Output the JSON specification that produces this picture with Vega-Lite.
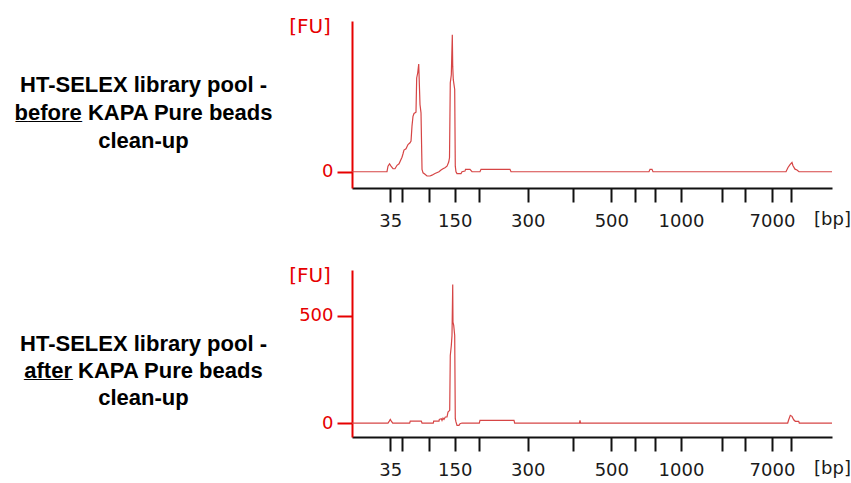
{
  "$schema": "https://vega.github.io/schema/vega-lite/v6.json",
  "background": "white",
  "padding": {"left": 13, "top": 17, "right": 0, "bottom": 0},
  "spacing": 36,
  "config": {
    "view": {"stroke": null},
    "font": "DejaVu Sans",
    "axisX": {
      "labelOverlap": false,
      "labelFlush": false,
      "grid": false,
      "domainColor": "#111111",
      "domainWidth": 2,
      "tickColor": "#111111",
      "tickWidth": 2,
      "tickSize": 14,
      "labelFont": "DejaVu Sans",
      "labelFontSize": 18,
      "labelColor": "#1a1a1a",
      "labelPadding": 10,
      "titleFont": "DejaVu Sans",
      "titleFontSize": 18,
      "titleFontWeight": "normal",
      "titleColor": "#1a1a1a"
    },
    "axisY": {
      "grid": false,
      "domainColor": "#e60000",
      "domainWidth": 2,
      "tickColor": "#e60000",
      "tickWidth": 2,
      "tickSize": 15,
      "labelFont": "DejaVu Sans",
      "labelFontSize": 18,
      "labelColor": "#e60000",
      "labelPadding": 4,
      "titleFont": "Liberation Sans",
      "titleFontSize": 22,
      "titleFontWeight": "bold",
      "titleColor": "#000000"
    },
    "title": {
      "font": "DejaVu Sans",
      "fontSize": 20,
      "fontWeight": "normal",
      "color": "#e60000"
    }
  },
  "datasets": {
    "before": [
      {"bp": 20, "fu": 0}, {"bp": 33.7, "fu": 0}, {"bp": 34.1, "fu": 26}, {"bp": 34.7, "fu": 37}, {"bp": 35.9, "fu": 26},
      {"bp": 38.5, "fu": 14}, {"bp": 41, "fu": 14}, {"bp": 43.6, "fu": 30}, {"bp": 46.2, "fu": 37}, {"bp": 50, "fu": 68},
      {"bp": 51.9, "fu": 84}, {"bp": 53.7, "fu": 101}, {"bp": 57.5, "fu": 107}, {"bp": 61.2, "fu": 127}, {"bp": 65, "fu": 135},
      {"bp": 66.9, "fu": 143}, {"bp": 68.7, "fu": 213}, {"bp": 70.6, "fu": 259}, {"bp": 72.5, "fu": 272}, {"bp": 76.2, "fu": 278},
      {"bp": 77.5, "fu": 438}, {"bp": 79.4, "fu": 461}, {"bp": 81.3, "fu": 503}, {"bp": 83.7, "fu": 314}, {"bp": 85.6, "fu": 275},
      {"bp": 87.5, "fu": 11}, {"bp": 89.4, "fu": -5}, {"bp": 93.1, "fu": -12}, {"bp": 96.8, "fu": -20}, {"bp": 102.5, "fu": -20},
      {"bp": 106.3, "fu": -16}, {"bp": 112.1, "fu": -8}, {"bp": 119.8, "fu": 0}, {"bp": 123.7, "fu": 8}, {"bp": 127.5, "fu": 14},
      {"bp": 131.3, "fu": 19}, {"bp": 135.2, "fu": 26}, {"bp": 138.5, "fu": 45}, {"bp": 140, "fu": 65}, {"bp": 141.5, "fu": 415},
      {"bp": 143.5, "fu": 453}, {"bp": 145.4, "fu": 640}, {"bp": 146.2, "fu": 492}, {"bp": 147.3, "fu": 430}, {"bp": 150, "fu": 384},
      {"bp": 151.2, "fu": 26}, {"bp": 152.6, "fu": 0}, {"bp": 154.7, "fu": -9}, {"bp": 162.8, "fu": -9}, {"bp": 164.8, "fu": 0},
      {"bp": 170.9, "fu": 3}, {"bp": 172, "fu": 11}, {"bp": 181.1, "fu": 11}, {"bp": 185.2, "fu": 0}, {"bp": 201.4, "fu": 0},
      {"bp": 203.5, "fu": 11}, {"bp": 263.4, "fu": 11}, {"bp": 265.5, "fu": 0}, {"bp": 670.6, "fu": 0}, {"bp": 675.8, "fu": 11},
      {"bp": 686.1, "fu": 11}, {"bp": 691.2, "fu": 0}, {"bp": 9451, "fu": 0}, {"bp": 9802, "fu": 20}, {"bp": 10152, "fu": 33},
      {"bp": 10459, "fu": 43}, {"bp": 10573, "fu": 28}, {"bp": 10800, "fu": 12}, {"bp": 11027, "fu": 8}, {"bp": 11254, "fu": 0},
      {"bp": 15000, "fu": 0}
    ],
    "after": [
      {"bp": 20, "fu": 0}, {"bp": 34.1, "fu": 0}, {"bp": 34.6, "fu": 9}, {"bp": 35, "fu": 17}, {"bp": 36.3, "fu": 9},
      {"bp": 38.1, "fu": 0}, {"bp": 64.4, "fu": 0}, {"bp": 65.5, "fu": 9}, {"bp": 86.1, "fu": 9}, {"bp": 87.5, "fu": 0},
      {"bp": 108.8, "fu": 0}, {"bp": 109.6, "fu": 9}, {"bp": 119.8, "fu": 9}, {"bp": 120.4, "fu": 17}, {"bp": 124.2, "fu": 20},
      {"bp": 125.6, "fu": 12}, {"bp": 127.5, "fu": 23}, {"bp": 129.4, "fu": 17}, {"bp": 132, "fu": 28}, {"bp": 135.2, "fu": 28},
      {"bp": 137.1, "fu": 51}, {"bp": 140.4, "fu": 59}, {"bp": 141.5, "fu": 314}, {"bp": 143.5, "fu": 361}, {"bp": 144.8, "fu": 407},
      {"bp": 146.2, "fu": 645}, {"bp": 146.7, "fu": 469}, {"bp": 148.1, "fu": 454}, {"bp": 150, "fu": 407}, {"bp": 151.2, "fu": 20},
      {"bp": 152.6, "fu": 5}, {"bp": 154.7, "fu": -11}, {"bp": 158.7, "fu": -11}, {"bp": 160.8, "fu": -3}, {"bp": 164.8, "fu": 0},
      {"bp": 200, "fu": 0}, {"bp": 201.4, "fu": 12}, {"bp": 271.7, "fu": 12}, {"bp": 273.1, "fu": 0}, {"bp": 417.6, "fu": 0},
      {"bp": 418.9, "fu": 12}, {"bp": 420.2, "fu": 0}, {"bp": 9749, "fu": 0}, {"bp": 9924, "fu": 15}, {"bp": 10204, "fu": 36},
      {"bp": 10459, "fu": 31}, {"bp": 10652, "fu": 15}, {"bp": 10834, "fu": 8}, {"bp": 11220, "fu": 8}, {"bp": 11288, "fu": 0},
      {"bp": 15000, "fu": 0}
    ]
  },
  "vconcat": [
    {
      "width": 480,
      "height": 167,
      "title": {"text": "[FU]", "orient": "top", "anchor": "start", "frame": "group", "align": "center", "baseline": "middle", "offset": 0, "dx": -42, "dy": 26},
      "data": {"name": "before"},
      "mark": {"type": "line", "color": "#d64545", "strokeWidth": 1.2, "interpolate": "linear"},
      "encoding": {
        "x": {
          "field": "bp", "type": "quantitative",
          "scale": {
            "type": "linear",
            "domain": [20, 35, 50, 100, 150, 200, 300, 400, 500, 600, 700, 1000, 2000, 3000, 7000, 10380, 15000],
            "range": [0, 38.3, 50, 76.7, 102.7, 127.3, 175.7, 220.7, 259.3, 283.3, 302.7, 329, 370, 393.3, 420, 439.3, 480],
            "nice": false, "zero": false
          },
          "axis": {
            "values": [35, 50, 100, 150, 200, 300, 400, 500, 600, 700, 1000, 2000, 3000, 7000, 10380],
            "labelExpr": "indexof([35,150,300,500,1000,7000], datum.value) >= 0 ? format(datum.value, 'd') : ''",
            "title": "[bp]", "titleX": 480, "titleY": 31, "titleAlign": "center", "titleBaseline": "middle"
          }
        },
        "y": {
          "field": "fu", "type": "quantitative",
          "scale": {"domain": [-76, 704], "nice": false, "zero": false},
          "axis": {
            "values": [0],
            "title": ["HT-SELEX library pool -", "b̲e̲f̲o̲r̲e̲ KAPA Pure beads", "clean-up"],
            "titleAngle": 0, "titleX": -209, "titleY": 63, "titleAlign": "center", "titleBaseline": "middle", "titleLineHeight": 28
          }
        }
      }
    },
    {
      "width": 480,
      "height": 167,
      "title": {"text": "[FU]", "orient": "top", "anchor": "start", "frame": "group", "align": "center", "baseline": "middle", "offset": 0, "dx": -42, "dy": 26},
      "data": {"name": "after"},
      "mark": {"type": "line", "color": "#d64545", "strokeWidth": 1.2, "interpolate": "linear"},
      "encoding": {
        "x": {
          "field": "bp", "type": "quantitative",
          "scale": {
            "type": "linear",
            "domain": [20, 35, 50, 100, 150, 200, 300, 400, 500, 600, 700, 1000, 2000, 3000, 7000, 10380, 15000],
            "range": [0, 38.3, 50, 76.7, 102.7, 127.3, 175.7, 220.7, 259.3, 283.3, 302.7, 329, 370, 393.3, 420, 439.3, 480],
            "nice": false, "zero": false
          },
          "axis": {
            "values": [35, 50, 100, 150, 200, 300, 400, 500, 600, 700, 1000, 2000, 3000, 7000, 10380],
            "labelExpr": "indexof([35,150,300,500,1000,7000], datum.value) >= 0 ? format(datum.value, 'd') : ''",
            "title": "[bp]", "titleX": 480, "titleY": 31, "titleAlign": "center", "titleBaseline": "middle"
          }
        },
        "y": {
          "field": "fu", "type": "quantitative",
          "scale": {"domain": [-65, 712], "nice": false, "zero": false},
          "axis": {
            "values": [0, 500],
            "title": ["HT-SELEX library pool -", "a̲f̲t̲e̲r̲ KAPA Pure beads", "clean-up"],
            "titleAngle": 0, "titleX": -209, "titleY": 73, "titleAlign": "center", "titleBaseline": "middle", "titleLineHeight": 27
          }
        }
      }
    }
  ]
}
